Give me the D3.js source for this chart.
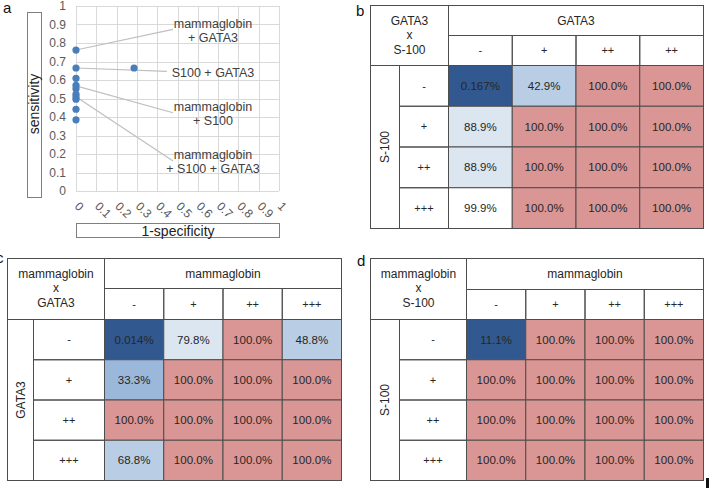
<!DOCTYPE html>
<html><head><meta charset="utf-8">
<script src="https://cdn.jsdelivr.net/npm/d3@7"></script>
<style>html,body{margin:0;padding:0;background:#fff;overflow:hidden}svg{display:block;font-family:Arial,"Liberation Sans",sans-serif}</style>
</head><body>
<svg id="chart" width="709" height="488"></svg>
<script>
// ---------- Panel a data ----------
const rocX = [0, 0, 0, 0, 0, 0, 0, 0, 0, 0, 0.286];
const rocY = [0.762, 0.665, 0.609, 0.571, 0.553, 0.523, 0.508, 0.496, 0.442, 0.385, 0.665];
const axisTicks = [0, 0.1, 0.2, 0.3, 0.4, 0.5, 0.6, 0.7, 0.8, 0.9, 1];
const annotLabels = [["mammaglobin", "+ GATA3"], ["S100 + GATA3"], ["mammaglobin", "+ S100"], ["mammaglobin", "+ S100 + GATA3"]];
const annotFromY = [0.762, 0.665, 0.568, 0.510];
const annotToX = [0.478, 0.448, 0.478, 0.478];
const annotToY = [0.874, 0.647, 0.423, 0.162];

// ---------- Tables data ----------
const bCorner = ["GATA3", "x", "S-100"];
const bColTitle = "GATA3";
const bRowTitle = "S-100";
const bColLabels = ["-", "+", "++", "++"];
const bRowLabels = ["-", "+", "++", "+++"];
const bValues = [[0.167, 42.9, 100, 100], [88.9, 100, 100, 100], [88.9, 100, 100, 100], [99.9, 100, 100, 100]];

const cCorner = ["mammaglobin", "x", "GATA3"];
const cColTitle = "mammaglobin";
const cRowTitle = "GATA3";
const cColLabels = ["-", "+", "++", "+++"];
const cRowLabels = ["-", "+", "++", "+++"];
const cValues = [[0.014, 79.8, 100, 48.8], [33.3, 100, 100, 100], [100, 100, 100, 100], [68.8, 100, 100, 100]];

const dCorner = ["mammaglobin", "x", "S-100"];
const dColTitle = "mammaglobin";
const dRowTitle = "S-100";
const dColLabels = ["-", "+", "++", "+++"];
const dRowLabels = ["-", "+", "++", "+++"];
const dValues = [[11.1, 100, 100, 100], [100, 100, 100, 100], [100, 100, 100, 100], [100, 100, 100, 100]];

const svg = d3.select("#chart");

// ---------- Panel a ----------
const x = d3.scaleLinear().domain([0, 1]).range([76, 279]);
const y = d3.scaleLinear().domain([0, 1]).range([191, 6]);
const gA = svg.append("g");

gA.append("g").selectAll("line.v").data(axisTicks).join("line")
  .attr("x1", d => Math.round(x(d)) + 0.5).attr("x2", d => Math.round(x(d)) + 0.5)
  .attr("y1", y(1)).attr("y2", y(0)).attr("stroke", "#d9d9d9").attr("stroke-width", 1);
gA.append("g").selectAll("line.h").data(axisTicks).join("line")
  .attr("y1", d => Math.round(y(d)) + 0.5).attr("y2", d => Math.round(y(d)) + 0.5)
  .attr("x1", x(0)).attr("x2", x(1)).attr("stroke", "#d9d9d9").attr("stroke-width", 1);

// y tick labels
gA.append("g").selectAll("text").data(axisTicks).join("text")
  .attr("x", 66).attr("y", d => y(d)).attr("dy", "0.35em")
  .attr("text-anchor", "end").attr("font-size", 12).attr("fill", "#595959")
  .text(d => d3.format("~g")(d));
// x tick labels rotated
gA.append("g").selectAll("text").data(axisTicks).join("text")
  .attr("transform", d => `translate(${x(d) - 2},207) rotate(45)`)
  .attr("text-anchor", "start").attr("font-size", 12).attr("fill", "#595959")
  .text(d => d3.format("~g")(d));

// annotation lines
gA.append("g").selectAll("line").data(annotFromY).join("line")
  .attr("x1", x(0)).attr("y1", d => y(d))
  .attr("x2", (d, i) => x(annotToX[i])).attr("y2", (d, i) => y(annotToY[i]))
  .attr("stroke", "#bfbfbf").attr("stroke-width", 1.2);

// points
gA.append("g").selectAll("circle").data(rocX).join("circle")
  .attr("cx", d => x(d)).attr("cy", (d, i) => y(rocY[i])).attr("r", 3.6)
  .attr("fill", "#4a7ebb");

// annotation labels
const labelCY = [30.5, 72, 113, 161];
annotLabels.forEach((lines, i) => {
  const t = gA.append("text").attr("text-anchor", "middle").attr("font-size", 12.5).attr("fill", "#404040");
  const n = lines.length;
  lines.forEach((s, j) => {
    t.append("tspan").attr("x", 213)
      .attr("y", labelCY[i] + (j - (n - 1) / 2) * 14 + 4.5).text(s);
  });
});

// axis title boxes
gA.append("rect").attr("x", 27.5).attr("y", 12.5).attr("width", 14).attr("height", 185)
  .attr("fill", "none").attr("stroke", "#7f7f7f");
gA.append("text").attr("transform", "translate(39,104) rotate(-90)")
  .attr("text-anchor", "middle").attr("font-size", 14).attr("fill", "#222").text("sensitivity");
gA.append("rect").attr("x", 76.5).attr("y", 223.5).attr("width", 203).attr("height", 14)
  .attr("fill", "none").attr("stroke", "#7f7f7f");
gA.append("text").attr("x", 178).attr("y", 235.5)
  .attr("text-anchor", "middle").attr("font-size", 14).attr("fill", "#222").text("1-specificity");

// ---------- Tables ----------
const color = d3.scaleThreshold()
  .domain([20, 40, 70, 95, 100])
  .range(["#31598f", "#9bb7da", "#b9cde5", "#dce6f1", "#ffffff", "#da9694"]);
const fmt = v => (v < 1 ? v.toFixed(3) : v.toFixed(1)) + "%";

function drawTable(geo, corner, colTitle, rowTitle, colLabels, rowLabels, values) {
  const g = svg.append("g");
  const [x0, x1, x2, xE] = geo.xs;
  const [y0, y1, y2, yE] = geo.ys;
  const cx = d3.scaleBand().domain(d3.range(colLabels.length)).range([x2, xE]);
  const cy = d3.scaleBand().domain(d3.range(rowLabels.length)).range([y2, yE]);
  const stroke = "#4d4d4d";
  const cell = (X, Y, W, H, fill) => g.append("rect").attr("x", X).attr("y", Y)
    .attr("width", W).attr("height", H).attr("fill", fill).attr("stroke", stroke).attr("stroke-width", 1);
  const txt = (X, Y, s, size) => g.append("text").attr("x", X).attr("y", Y)
    .attr("dy", "0.35em").attr("text-anchor", "middle").attr("font-size", size || 12).attr("fill", "#262626").text(s);

  // data cells
  values.forEach((row, r) => row.forEach((v, c) => {
    cell(cx(c), cy(r), cx.bandwidth(), cy.bandwidth(), color(v));
    txt(cx(c) + cx.bandwidth() / 2, cy(r) + cy.bandwidth() / 2, fmt(v), 11.5);
  }));
  // header cells
  cell(x0, y0, x2 - x0, y2 - y0, "none");
  cell(x2, y0, xE - x2, y1 - y0, "none");
  txt((x2 + xE) / 2, (y0 + y1) / 2, colTitle);
  colLabels.forEach((s, c) => {
    cell(cx(c), y1, cx.bandwidth(), y2 - y1, "none");
    txt(cx(c) + cx.bandwidth() / 2, (y1 + y2) / 2, s, 11);
  });
  cell(x0, y2, x1 - x0, yE - y2, "none");
  g.append("text").attr("transform", `translate(${(x0 + x1) / 2},${(y2 + yE) / 2}) rotate(-90)`)
    .attr("dy", "0.35em").attr("text-anchor", "middle").attr("font-size", 12).attr("fill", "#262626").text(rowTitle);
  rowLabels.forEach((s, r) => {
    cell(x1, cy(r), x2 - x1, cy.bandwidth(), "none");
    txt((x1 + x2) / 2, cy(r) + cy.bandwidth() / 2, s, 11);
  });
  const ccx = (x0 + x2) / 2, ccy = (y0 + y2) / 2;
  txt(ccx, ccy - 15, corner[0]);
  txt(ccx, ccy - 1, corner[1]);
  txt(ccx, ccy + 14, corner[2]);
}

drawTable({ xs: [370.5, 399.5, 448.5, 703.5], ys: [5.5, 35.5, 65.5, 228.5] },
  bCorner, bColTitle, bRowTitle, bColLabels, bRowLabels, bValues);
drawTable({ xs: [7.5, 33.5, 104.5, 341.5], ys: [258.5, 288.5, 319.5, 480.5] },
  cCorner, cColTitle, cRowTitle, cColLabels, cRowLabels, cValues);
drawTable({ xs: [370.5, 399.5, 466.5, 703.5], ys: [258.5, 289.5, 319.5, 480.5] },
  dCorner, dColTitle, dRowTitle, dColLabels, dRowLabels, dValues);

// panel letters
const letters = [["a", 3, 13], ["b", 356, 16], ["c", -4, 263], ["d", 357, 266]];
svg.selectAll("text.letter").data(letters).join("text").attr("class", "letter")
  .attr("x", d => d[1]).attr("y", d => d[2]).attr("font-size", 15).attr("fill", "#111").text(d => d[0]);

// small edge mark bottom-right
svg.append("rect").attr("x", 706).attr("y", 478).attr("width", 3).attr("height", 10).attr("fill", "#111");
</script>
</body></html>
